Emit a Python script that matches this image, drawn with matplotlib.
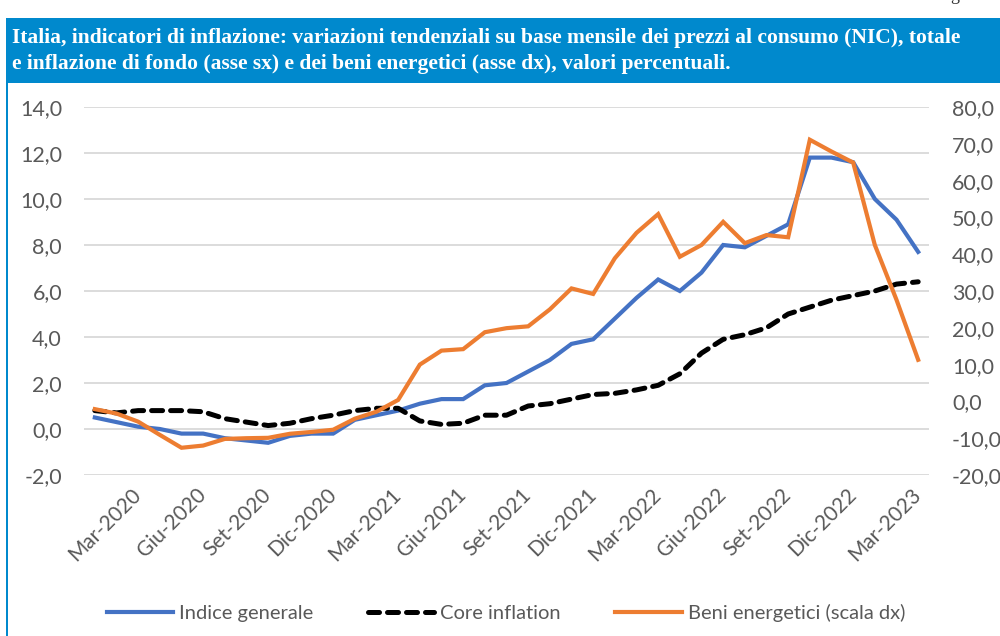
import matplotlib
matplotlib.use("Agg")
import matplotlib.pyplot as plt
from matplotlib.ticker import FuncFormatter, FixedLocator
from matplotlib.patches import Rectangle

# ---- data (Jan 2020 .. Mar 2023, monthly) ----
indice_generale = [0.5, 0.3, 0.1, 0.0, -0.2, -0.2, -0.4, -0.5, -0.6, -0.3, -0.2, -0.2,
                   0.4, 0.6, 0.8, 1.1, 1.3, 1.3, 1.9, 2.0, 2.5, 3.0, 3.7, 3.9,
                   4.8, 5.7, 6.5, 6.0, 6.8, 8.0, 7.9, 8.4, 8.9, 11.8, 11.8, 11.6,
                   10.0, 9.1, 7.7]
core_inflation = [0.8, 0.7, 0.8, 0.8, 0.8, 0.75, 0.45, 0.3, 0.15, 0.25, 0.45, 0.6,
                  0.8, 0.9, 0.9, 0.35, 0.2, 0.25, 0.6, 0.6, 1.0, 1.1, 1.3, 1.5,
                  1.55, 1.7, 1.9, 2.4, 3.3, 3.9, 4.1, 4.4, 5.0, 5.3, 5.6, 5.8,
                  6.0, 6.3, 6.4]
beni_energetici = [-2.1, -3.3, -5.5, -9.1, -12.6, -12.0, -10.2, -10.0, -9.9, -8.8, -8.3, -7.7,
                   -4.7, -2.8, 0.4, 10.0, 13.8, 14.2, 18.8, 19.9, 20.4, 25.0, 30.7, 29.2,
                   38.9, 45.8, 50.9, 39.3, 42.5, 48.8, 43.0, 45.2, 44.6, 71.1, 67.9, 64.9,
                   42.5, 27.6, 11.3]
tick_positions = [2, 5, 8, 11, 14, 17, 20, 23, 26, 29, 32, 35, 38]
tick_labels = ['Mar-2020', 'Giu-2020', 'Set-2020', 'Dic-2020', 'Mar-2021', 'Giu-2021',
               'Set-2021', 'Dic-2021', 'Mar-2022', 'Giu-2022', 'Set-2022', 'Dic-2022',
               'Mar-2023']
left_ticks = [-2, 0, 2, 4, 6, 8, 10, 12, 14]
right_ticks = [-20, -10, 0, 10, 20, 30, 40, 50, 60, 70, 80]
title_text = ("Italia, indicatori di inflazione: variazioni tendenziali su base mensile dei prezzi al consumo (NIC), totale\n"
              "e inflazione di fondo (asse sx) e dei beni energetici (asse dx), valori percentuali.")
legend_labels = ['Indice generale', 'Core inflation', 'Beni energetici (scala dx)']

W, H = 1000, 636
fig = plt.figure(figsize=(W / 100, H / 100), dpi=100)

BLUE_BAR = '#0089CD'
GRAY = '#595959'
FONT = 'Lato'
PX = 72 / 100  # points per pixel

# title bar and left border
fig.patches.append(Rectangle((6 / W, 1 - 83 / H), 1 - 6 / W, 65 / H, transform=fig.transFigure,
                             facecolor=BLUE_BAR, edgecolor='none', zorder=0))
fig.patches.append(Rectangle((6 / W, 0), 2 / W, 1 - 83 / H, transform=fig.transFigure,
                             facecolor=BLUE_BAR, edgecolor='none', zorder=0))
fig.text(12 / W, 1 - 51 / H, title_text, color='white', fontsize=15.5, fontweight='bold',
         family='Liberation Serif', ha='left', va='center', linespacing=1.35)
# fragment of page text visible above the bar
fig.text(950 / W, 1 + 4 / H, 'g', color='#333333', fontsize=13, family='Liberation Serif',
         ha='left', va='center')

x = list(range(len(indice_generale)))

ax = fig.add_axes([84 / W, 1 - 475 / H, 845 / W, 368 / H])
ax.set_xlim(-0.5, len(x) - 0.5)
ax.set_ylim(-2, 14)
ax.yaxis.set_major_locator(FixedLocator(left_ticks))
ax.yaxis.set_major_formatter(FuncFormatter(lambda v, p: f"{v:.1f}".replace('.', ',')))
ax.grid(axis='y', color='#d9d9d9', linewidth=1.3)
ax.set_axisbelow(True)
for s in ax.spines.values():
    s.set_visible(False)
ax.tick_params(axis='both', length=0)
ax.tick_params(axis='y', pad=22 * PX, labelsize=15.5, labelcolor=GRAY)
ax.set_xticks(tick_positions)
ax.set_xticklabels(tick_labels, rotation=45, ha='right', va='center', rotation_mode='anchor',
                   fontsize=15, color=GRAY, family=FONT)
ax.tick_params(axis='x', pad=12)
for lab in ax.get_yticklabels():
    lab.set_family(FONT)

l1, = ax.plot(x, indice_generale, color='#4472C4', linewidth=3.0, solid_joinstyle='miter')
l2, = ax.plot(x, core_inflation, color='black', linewidth=3.6, linestyle=(0, (2.2, 1.6)),
              dash_capstyle='round')

ax2 = ax.twinx()
ax2.set_ylim(-20, 80)
ax2.yaxis.set_major_locator(FixedLocator(right_ticks))
ax2.yaxis.set_major_formatter(FuncFormatter(lambda v, p: f"{v:.1f}".replace('.', ',')))
for s in ax2.spines.values():
    s.set_visible(False)
ax2.tick_params(axis='y', length=0, pad=23 * PX, labelsize=15.5, labelcolor=GRAY)
for lab in ax2.get_yticklabels():
    lab.set_family(FONT)
l3, = ax2.plot(x, beni_energetici, color='#ED7D31', linewidth=3.0, solid_joinstyle='miter')

leg = fig.legend([l1, l2, l3], legend_labels, loc='center', bbox_to_anchor=(0.506, 1 - 613 / H),
                 ncol=3, frameon=False, handlelength=3.3, handletextpad=0.3, columnspacing=2.7,
                 prop={'family': FONT, 'size': 14.5})
for t in leg.get_texts():
    t.set_color(GRAY)

fig.savefig('out.png', dpi=100)
